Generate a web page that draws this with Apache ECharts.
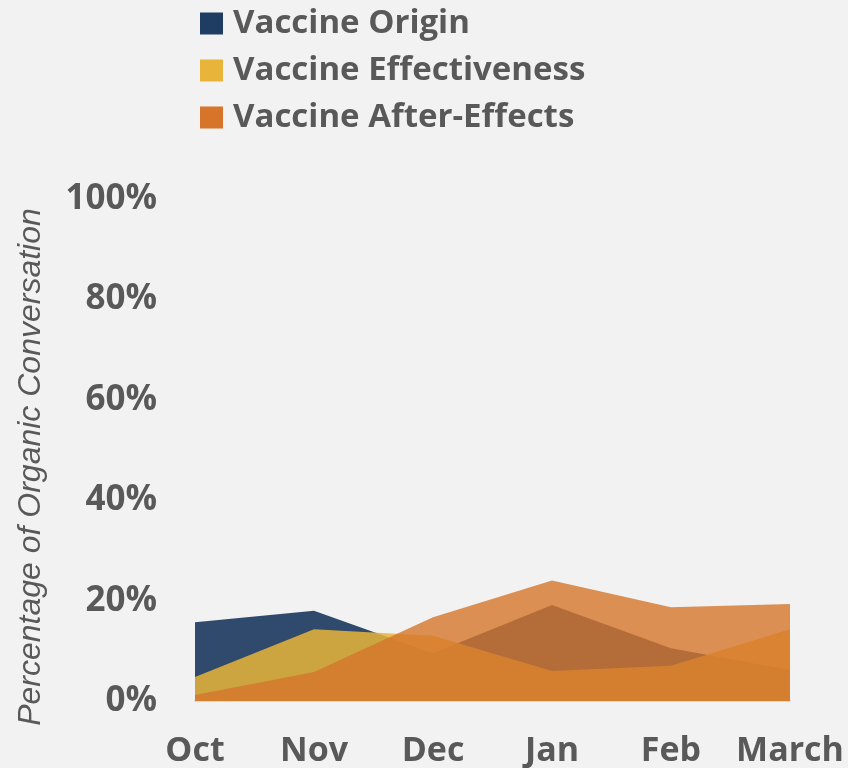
<!DOCTYPE html>
<html>
<head>
<meta charset="utf-8">
<script src="https://cdn.jsdelivr.net/npm/echarts@6/dist/echarts.min.js"></script>
<style>
  html, body { margin: 0; padding: 0; background: #f2f2f2; }
  #chart { width: 848px; height: 768px; }
</style>
</head>
<body>
<div id="chart"></div>
<script>
// Data
const months = ['Oct', 'Nov', 'Dec', 'Jan', 'Feb', 'March'];
const vaccineOrigin = [15.7, 18, 9.5, 19.1, 10.5, 6.2];
const vaccineEffectiveness = [4.8, 14.3, 13, 6, 7, 14.3];
const vaccineAfterEffects = [1.2, 5.8, 16.7, 24, 18.7, 19.3];
const yTicks = [0, 20, 40, 60, 80, 100];

const textColor = '#595959';
const font = '"Open Sans", sans-serif';

const chart = echarts.init(document.getElementById('chart'));

const areaSeries = (name, data, color, opacity) => ({
    name: name,
    type: 'line',
    data: data,
    symbol: 'none',
    lineStyle: { width: 0 },
    itemStyle: { color: color },
    areaStyle: { color: color, opacity: opacity },
    emphasis: { disabled: true }
});

chart.setOption({
    backgroundColor: '#f2f2f2',
    animation: false,
    legend: {
        orient: 'vertical',
        left: 195,
        top: 2,
        itemWidth: 23,
        itemHeight: 22,
        itemGap: 14,
        icon: 'rect',
        textStyle: {
            color: textColor, fontSize: 33, fontWeight: 'bold', fontFamily: font,
            lineHeight: 32, padding: [0, 0, 0, 5]
        },
        data: ['Vaccine Origin', 'Vaccine Effectiveness', 'Vaccine After-Effects']
    },
    // keep the plot where it is even though "March" runs to the edge
    grid: { left: 195, right: 58, top: 199, bottom: 67, containLabel: false, outerBoundsMode: 'none' },
    xAxis: {
        type: 'category',
        data: months,
        boundaryGap: false,
        axisLine: { show: true, lineStyle: { color: '#d9d9d9', width: 2 } },
        axisTick: { show: false },
        axisLabel: {
            color: textColor, fontSize: 34, fontWeight: 'bold', fontFamily: font,
            margin: 33, interval: 0
        }
    },
    yAxis: {
        type: 'value',
        min: 0,
        max: 100,
        interval: 20,
        name: 'Percentage of Organic Conversation',
        nameLocation: 'middle',
        nameGap: 148,
        nameTextStyle: {
            color: textColor, fontSize: 32, fontStyle: 'italic',
            fontFamily: '"Liberation Sans", Arial, sans-serif',
            padding: [0, 34, 0, 0]
        },
        axisLine: { show: false },
        axisTick: { show: false },
        splitLine: { show: false },
        axisLabel: {
            color: textColor, fontSize: 35, fontWeight: 'bold', fontFamily: font,
            margin: 38,
            formatter: (v) => yTicks.includes(v) ? v + '%' : ''
        }
    },
    series: [
        areaSeries('Vaccine Origin', vaccineOrigin, '#1f3c62', 0.92),
        areaSeries('Vaccine Effectiveness', vaccineEffectiveness, '#e8b53a', 0.85),
        areaSeries('Vaccine After-Effects', vaccineAfterEffects, '#d6752a', 0.8)
    ]
});
</script>
</body>
</html>
